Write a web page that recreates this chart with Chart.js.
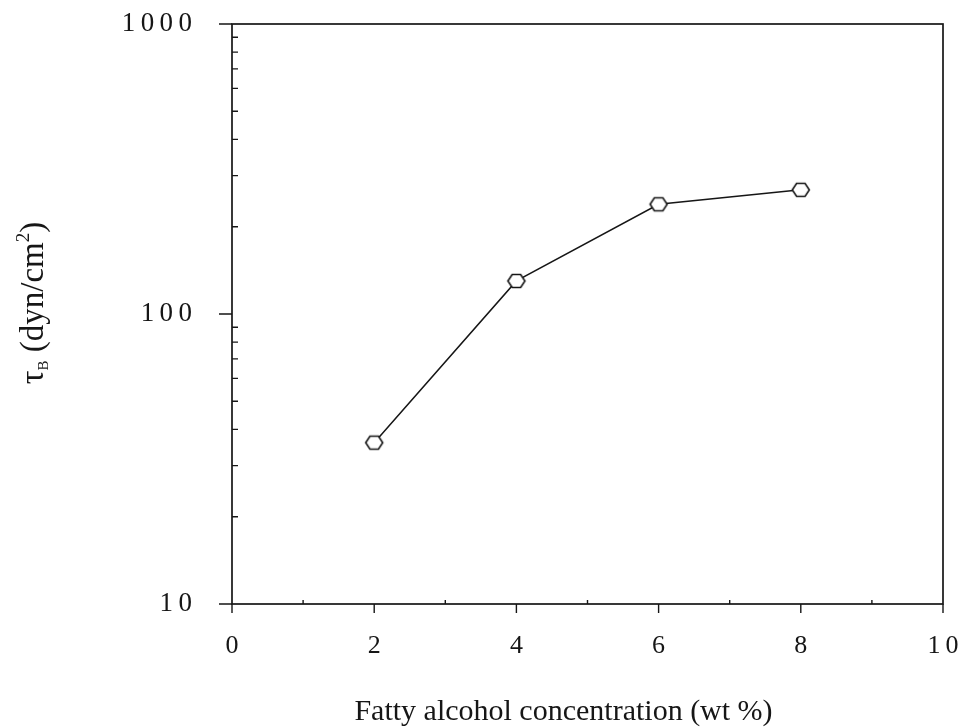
<!DOCTYPE html>
<html>
<head>
<meta charset="utf-8">
<script src="https://cdn.jsdelivr.net/npm/chart.js@4/dist/chart.umd.min.js"></script>
<style>
  html, body { margin: 0; padding: 0; background: #fff; }
  canvas { display: block; }
</style>
</head>
<body>
<canvas id="c" width="960" height="727"></canvas>
<script>
// Fatty alcohol concentration (wt %) vs. Bingham yield stress
const concentration = [2, 4, 6, 8];
const yieldStress = [36, 130, 239, 268];
const xTickValues = [0, 2, 4, 6, 8, 10];
const yMajorTicks = [10, 100, 1000];

const SERIF = '"Liberation Serif", "Times New Roman", serif';
const INK = '#161616';

// spaced digits, as typeset on the axes
const spaced = v => String(v).split('').join('\u2009');

// hexagonal marker (flat top and bottom)
function hexMarker() {
  const w = 22, h = 18;
  const c = document.createElement('canvas');
  c.width = w; c.height = h;
  const g = c.getContext('2d');
  const cx = w / 2, cy = h / 2, rx = 8.5, ry = 6.5;
  g.beginPath();
  g.moveTo(cx - rx, cy);
  g.lineTo(cx - rx / 2, cy - ry);
  g.lineTo(cx + rx / 2, cy - ry);
  g.lineTo(cx + rx, cy);
  g.lineTo(cx + rx / 2, cy + ry);
  g.lineTo(cx - rx / 2, cy + ry);
  g.closePath();
  g.fillStyle = '#fff';
  g.fill();
  g.lineWidth = 1.6;
  g.strokeStyle = INK;
  g.stroke();
  return c;
}

// frame, inward minor ticks, outward major ticks and axis titles
const frameAndTitles = {
  id: 'frameAndTitles',
  afterDraw(chart) {
    const { ctx, chartArea: a, scales } = chart;
    const xs = scales.x, ys = scales.y;
    ctx.save();
    ctx.strokeStyle = INK;
    ctx.lineWidth = 1.7;
    ctx.strokeRect(a.left, a.top, a.right - a.left, a.bottom - a.top);

    ctx.lineWidth = 1.4;
    ctx.beginPath();
    yMajorTicks.forEach(v => {
      const y = ys.getPixelForValue(v);
      ctx.moveTo(a.left - 13, y); ctx.lineTo(a.left, y);
    });
    [10, 100].forEach(d => {
      for (let k = 2; k <= 9; k++) {
        const y = ys.getPixelForValue(d * k);
        ctx.moveTo(a.left, y); ctx.lineTo(a.left + 6, y);
      }
    });
    xTickValues.forEach(v => {
      const x = xs.getPixelForValue(v);
      ctx.moveTo(x, a.bottom); ctx.lineTo(x, a.bottom + 9);
    });
    [1, 3, 5, 7, 9].forEach(v => {
      const x = xs.getPixelForValue(v);
      ctx.moveTo(x, a.bottom); ctx.lineTo(x, a.bottom - 4);
    });
    ctx.stroke();

    ctx.fillStyle = INK;
    // x title
    ctx.font = '30px ' + SERIF;
    ctx.textAlign = 'center';
    ctx.textBaseline = 'alphabetic';
    ctx.fillText('Fatty alcohol concentration (wt %)', (a.left + a.right) / 2 - 24, 720);

    // y title: τ_B (dyn/cm²), rotated
    const parts = [
      { t: '\u03C4', size: 34, dy: 0 },
      { t: 'B', size: 15, dy: 5 },
      { t: ' (dyn/cm', size: 33, dy: 0 },
      { t: '2', size: 19, dy: -14 },
      { t: ')', size: 33, dy: 0 }
    ];
    let total = 0;
    parts.forEach(p => { ctx.font = p.size + 'px ' + SERIF; p.w = ctx.measureText(p.t).width; total += p.w; });
    ctx.translate(43, 303);
    ctx.rotate(-Math.PI / 2);
    ctx.textAlign = 'left';
    let x = -total / 2;
    parts.forEach(p => {
      ctx.font = p.size + 'px ' + SERIF;
      ctx.fillText(p.t, x, p.dy);
      x += p.w;
    });
    ctx.restore();
  }
};

new Chart(document.getElementById('c'), {
  type: 'line',
  data: {
    datasets: [{
      data: concentration.map((x, i) => ({ x, y: yieldStress[i] })),
      borderColor: INK,
      borderWidth: 1.5,
      pointStyle: hexMarker(),
      pointRadius: 9,
      pointHoverRadius: 9,
      fill: false,
      tension: 0
    }]
  },
  options: {
    responsive: false,
    devicePixelRatio: 1,
    animation: false,
    events: [],
    layout: { padding: { top: 24, right: 17, left: 0, bottom: 0 } },
    plugins: { legend: { display: false }, tooltip: { enabled: false }, title: { display: false } },
    scales: {
      x: {
        type: 'linear',
        min: 0, max: 10,
        afterBuildTicks: s => { s.ticks = xTickValues.map(v => ({ value: v })); },
        afterFit: s => { s.height = 123; s.paddingLeft = 0; s.paddingRight = 0; },
        grid: { display: false, drawTicks: false },
        border: { display: false },
        ticks: {
          padding: 27,
          color: INK,
          font: { family: SERIF, size: 26 },
          maxRotation: 0,
          autoSkip: false,
          callback: v => spaced(v)
        }
      },
      y: {
        type: 'logarithmic',
        min: 10, max: 1000,
        afterBuildTicks: s => { s.ticks = yMajorTicks.map(v => ({ value: v, major: true })); },
        afterFit: s => { s.width = 232; s.paddingTop = 0; s.paddingBottom = 0; },
        grid: { display: false, drawTicks: false },
        border: { display: false },
        ticks: {
          padding: 40,
          color: INK,
          font: { family: SERIF, size: 27 },
          autoSkip: false,
          callback: v => spaced(v)
        }
      }
    }
  },
  plugins: [frameAndTitles]
});
</script>
</body>
</html>
